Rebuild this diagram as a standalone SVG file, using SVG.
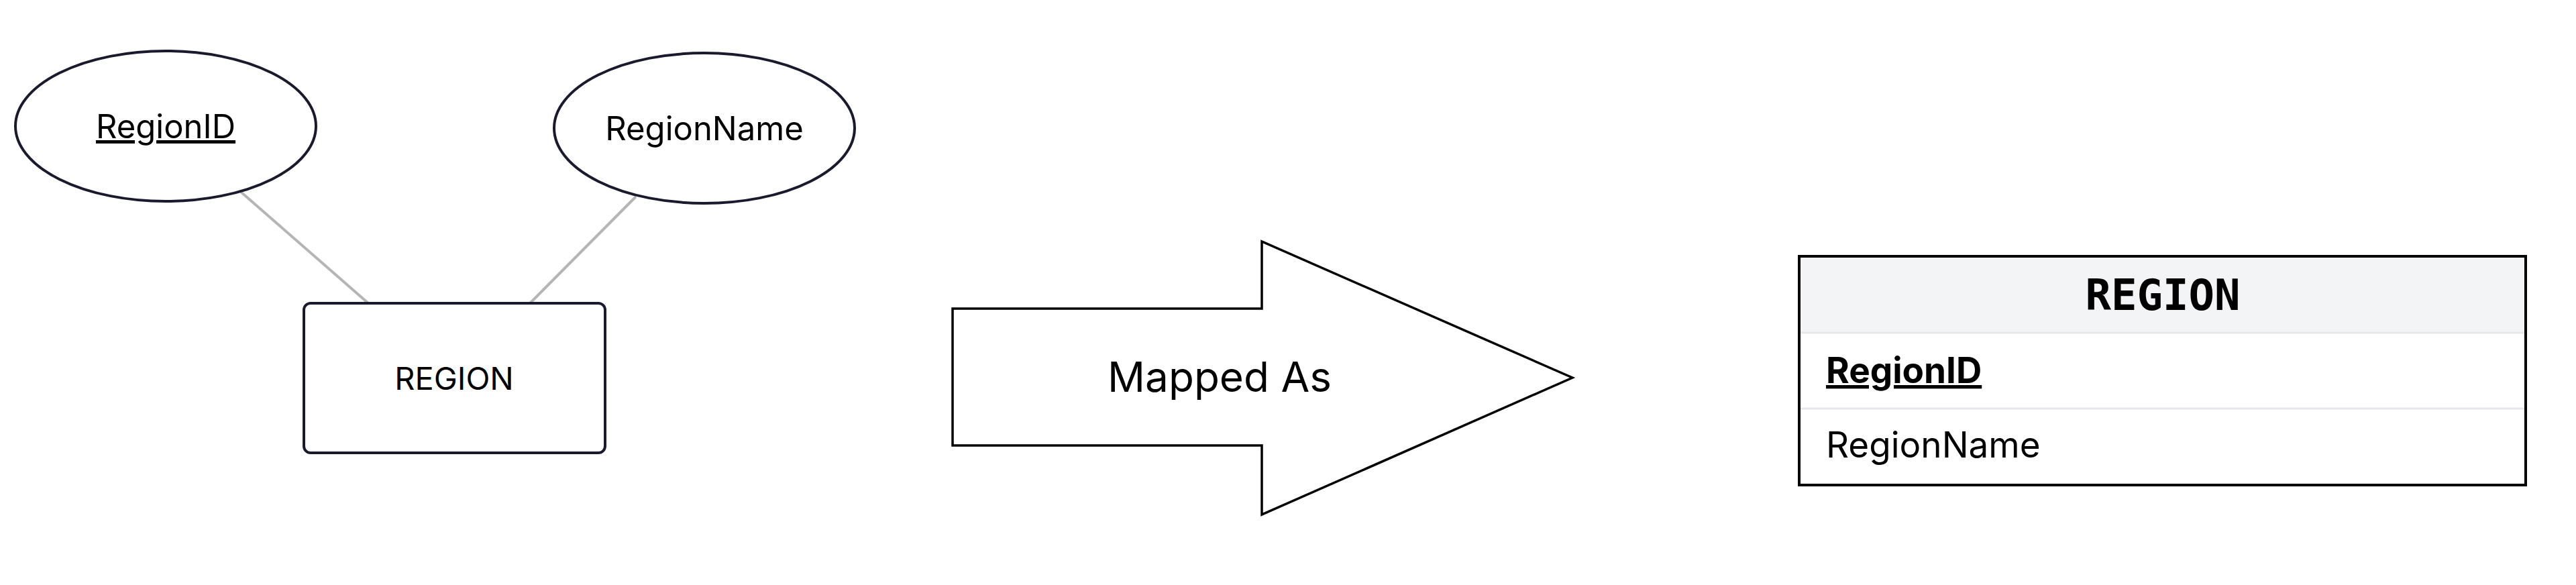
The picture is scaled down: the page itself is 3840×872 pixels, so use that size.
<svg xmlns="http://www.w3.org/2000/svg" width="3840" height="872" viewBox="0 0 3840 872">
<style>
.t{font-family:Inter,"Noto Sans",sans-serif;fill:#000}
.n{fill:#fff;stroke:#1a1a2e;stroke-width:4}
.c{stroke:#b5b5b5;stroke-width:4;fill:none}
</style>
<rect width="3840" height="872" fill="#fff"/>
<g id="connectors">
<line class="c" x1="359" y1="286" x2="549" y2="452"/>
<line class="c" x1="948" y1="293" x2="790" y2="452"/>
</g>
<g id="RegionID"><ellipse class="n" cx="247" cy="188" rx="224" ry="112"/><text class="t" x="247" y="206" font-size="49" text-anchor="middle" text-decoration="underline">RegionID</text></g>
<g id="RegionName"><ellipse class="n" cx="1050" cy="191" rx="224" ry="112"/><text class="t" x="1050" y="209" font-size="49" text-anchor="middle">RegionName</text></g>
<g id="REGION"><rect class="n" x="453" y="452" width="449" height="223" rx="10"/><text class="t" x="677" y="581" font-size="47" text-anchor="middle">REGION</text></g>
<g id="arrow"><polygon points="1420,460 1881,460 1881,360 2344,563 1881,767 1881,664 1420,664" fill="#fff" stroke="#000" stroke-width="3.5"/><text class="t" x="1818" y="584" font-size="62" text-anchor="middle">Mapped As</text></g>
<g id="table">
<rect x="2682" y="382" width="1083" height="341" fill="#fff"/>
<rect x="2682" y="382" width="1083" height="114" fill="#f3f4f6"/>
<line x1="2684" y1="496" x2="3763" y2="496" stroke="#e5e7eb" stroke-width="3"/>
<line x1="2684" y1="609" x2="3763" y2="609" stroke="#e5e7eb" stroke-width="3"/>
<rect x="2682" y="382" width="1083" height="341" fill="none" stroke="#000" stroke-width="4"/>
<text x="3224" y="462" font-family="'DejaVu Sans Mono',monospace" font-weight="bold" font-size="64" text-anchor="middle">REGION</text>
<text class="t" x="2722" y="571" font-size="53" font-weight="bold" text-decoration="underline">RegionID</text>
<text class="t" x="2722" y="682" font-size="53">RegionName</text>
</g>
</svg>
